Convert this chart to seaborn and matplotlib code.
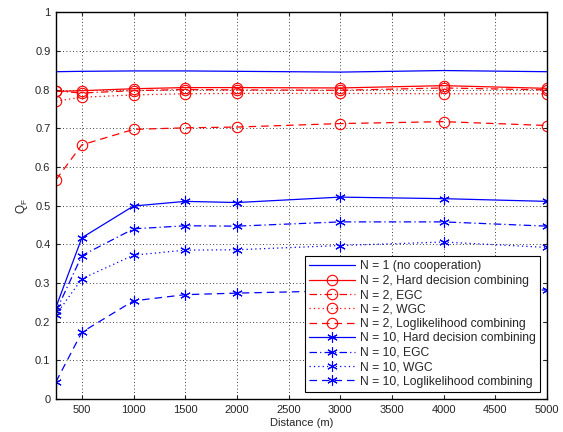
import matplotlib
matplotlib.use("Agg")
import matplotlib.pyplot as plt
import seaborn as sns
from matplotlib.ticker import FormatStrFormatter

# distance values (m)
distance = [250, 500, 1000, 1500, 2000, 3000, 4000, 5000]

# N = 1
n1 = [0.846, 0.847, 0.848, 0.848, 0.847, 0.845, 0.849, 0.846]

# N = 2
n2_hard = [0.795, 0.797, 0.802, 0.805, 0.805, 0.804, 0.810, 0.803]
n2_egc = [0.796, 0.791, 0.797, 0.800, 0.799, 0.798, 0.804, 0.799]
n2_wgc = [0.770, 0.780, 0.786, 0.789, 0.790, 0.790, 0.789, 0.789]
n2_ll = [0.567, 0.657, 0.697, 0.701, 0.703, 0.712, 0.717, 0.707]

# N = 10
n10_hard = [0.238, 0.417, 0.499, 0.511, 0.508, 0.522, 0.518, 0.511]
n10_egc = [0.227, 0.371, 0.440, 0.448, 0.447, 0.458, 0.458, 0.447]
n10_wgc = [0.218, 0.311, 0.372, 0.385, 0.386, 0.397, 0.406, 0.392]
n10_ll = [0.045, 0.173, 0.254, 0.270, 0.274, 0.280, 0.283, 0.282]

labels = ["N = 1 (no cooperation)",
          "N = 2, Hard decision combining",
          "N = 2, EGC",
          "N = 2, WGC",
          "N = 2, Loglikelihood combining",
          "N = 10, Hard decision combining",
          "N = 10, EGC",
          "N = 10, WGC",
          "N = 10, Loglikelihood combining"]

sns.set_style("white")
plt.rcParams['font.family'] = ['Liberation Sans', 'DejaVu Sans']
plt.rcParams['font.size'] = 8

fig = plt.figure(figsize=(5.63, 4.32), dpi=100)
ax = fig.add_axes([0.0995, 0.076, 0.872, 0.896])

# matlab-like line styles
solid = '-'
dashdot = (0, (6, 2.5, 1, 2.5))
dotted = (0, (1, 2.5))
dashed = (0, (6, 4))

series = [n1, n2_hard, n2_egc, n2_wgc, n2_ll, n10_hard, n10_egc, n10_wgc, n10_ll]
colors = ['#0000ff'] + ['#ff0000'] * 4 + ['#0000ff'] * 4
markers = [None, 'o', 'o', 'o', 'o', (6, 2, 0), (6, 2, 0), (6, 2, 0), (6, 2, 0)]
styles = [solid, solid, dashdot, dotted, dashed, solid, dashdot, dotted, dashed]

for y, lab, c, m, ls in zip(series, labels, colors, markers, styles):
    kw = dict(marker=m, markersize=7.5, markerfacecolor='none',
              markeredgecolor=c, markeredgewidth=0.8) if m is not None else {}
    sns.lineplot(x=distance, y=y, ax=ax, color=c, linestyle=ls, linewidth=0.9,
                 label=lab, **kw)

ax.set_xlim(250, 5000)
ax.set_ylim(0, 1)
ax.set_xticks(range(500, 5001, 500))
ax.set_yticks([i / 10 for i in range(11)])
ax.yaxis.set_major_formatter(FormatStrFormatter('%g'))
ax.tick_params(direction='in', length=3, labelsize=8, top=True, right=True,
               bottom=True, left=True, pad=4)
ax.grid(True, linestyle=(0, (1, 3)), color='black', linewidth=0.6)
for s in ax.spines.values():
    s.set_color('black')
    s.set_linewidth(1.0)

ax.set_xlabel("Distance (m)", fontsize=8, labelpad=2)
ax.set_ylabel(r"$\mathregular{Q_F}$", fontsize=8.5)

leg = ax.legend(loc='lower right', fontsize=8.7, frameon=True, fancybox=False,
                edgecolor='black', framealpha=1, handlelength=3.8,
                handletextpad=0.35, labelspacing=0.2, borderpad=0.35,
                borderaxespad=0.6)
leg.get_frame().set_linewidth(0.8)

plt.savefig("out.png", dpi=100)
